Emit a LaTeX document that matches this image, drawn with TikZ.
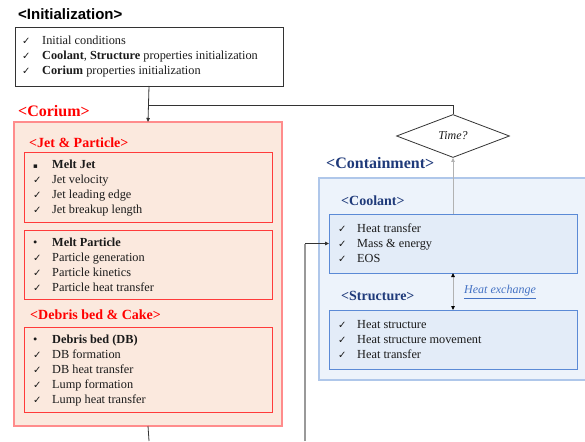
\documentclass[tikz,border=0pt]{standalone}
\usepackage{fontspec}
\setmainfont{Liberation Serif}
\newfontfamily\headsans{Liberation Sans}
\newfontfamily\symf{DejaVu Sans}
\usetikzlibrary{shapes.geometric,arrows.meta}
\definecolor{corfill}{HTML}{FBE9DE}
\definecolor{corline}{HTML}{FF8C8C}
\definecolor{corin}{HTML}{FF3B3B}
\definecolor{cored}{HTML}{FF0000}
\definecolor{navy}{HTML}{1F3A7A}
\definecolor{confill}{HTML}{EDF3FB}
\definecolor{conline}{HTML}{AFC7EA}
\definecolor{boxfill}{HTML}{E3ECF8}
\definecolor{boxline}{HTML}{5B8AD6}
\definecolor{hx}{HTML}{4472C4}
\definecolor{txt}{HTML}{1A1A1A}
\newcommand\ck{{\symf\fontsize{10}{10}\selectfont ✓}}
\newcommand\sqb{{\symf\fontsize{7}{7}\selectfont ▪}}
\tikzset{
  box/.style={draw, inner sep=0pt, outer sep=0pt, anchor=north west},
  lst/.style={inner sep=0pt, anchor=north west, text=txt, font=\fontsize{12.3}{15}\selectfont},
  redhead/.style={anchor=west, inner sep=0pt, text=cored, font=\bfseries\fontsize{14}{14}\selectfont},
  bluehead/.style={anchor=west, inner sep=0pt, text=navy, font=\bfseries\fontsize{14}{14}\selectfont},
  conn/.style={draw=black!80, line width=0.8pt},
  arr/.style={-{Triangle[length=4pt,width=3.5pt]}},
}
\begin{document}
\begin{tikzpicture}[x=1pt,y=1pt]
\useasboundingbox (0,0) rectangle (585,-441);
% Initialization
\node[anchor=west, inner sep=0pt, font=\headsans\bfseries\fontsize{15}{15}\selectfont] (inittitle) at (18,-14) {<Initialization>};
\node[box, draw=black!80, line width=0.8pt, minimum width=268pt, minimum height=59pt] (init) at (15,-27) {};
\node[lst] (initlst) at (22,-34) {\begin{tabular}{@{}p{20pt}@{}l@{}}
\ck & Initial conditions\\
\ck & \textbf{Coolant}, \textbf{Structure} properties initialization\\
\ck & \textbf{Corium} properties initialization
\end{tabular}};
% Corium
\node[redhead, font=\bfseries\fontsize{16}{16}\selectfont] (coriumtitle) at (18,-111) {<Corium>};
\node[box, draw=corline, fill=corfill, line width=1.6pt, minimum width=268pt, minimum height=304pt] (corium) at (14,-122) {};
\node[redhead] (jptitle) at (29,-143) {<Jet \& Particle>};
\node[box, draw=corin, line width=1pt, minimum width=248pt, minimum height=70pt] (jet) at (24,-152) {};
\node[lst] (jetlst) at (33,-158) {\begin{tabular}{@{}p{19pt}@{}l@{}}
\sqb & \textbf{Melt Jet}\\
\ck & Jet velocity\\
\ck & Jet leading edge\\
\ck & Jet breakup length
\end{tabular}};
\node[box, draw=corin, line width=1pt, minimum width=248pt, minimum height=69pt] (part) at (24,-230) {};
\node[lst] (partlst) at (33,-236) {\begin{tabular}{@{}p{19pt}@{}l@{}}
• & \textbf{Melt Particle}\\
\ck & Particle generation\\
\ck & Particle kinetics\\
\ck & Particle heat transfer
\end{tabular}};
\node[redhead] (dbtitle) at (30,-315) {<Debris bed \& Cake>};
\node[box, draw=corin, line width=1pt, minimum width=248pt, minimum height=85pt] (db) at (24,-327) {};
\node[lst] (dblst) at (33,-333) {\begin{tabular}{@{}p{19pt}@{}l@{}}
• & \textbf{Debris bed (DB)}\\
\ck & DB formation\\
\ck & DB heat transfer\\
\ck & Lump formation\\
\ck & Lump heat transfer
\end{tabular}};
% Time diamond
\node[diamond, draw=black!80, line width=0.8pt, aspect=2.6, minimum width=113pt, minimum height=43pt, inner sep=0pt, font=\itshape\fontsize{12}{12}\selectfont, text=txt] (time) at (453,-136) {Time?};
% Containment
\node[bluehead, font=\bfseries\fontsize{16}{16}\selectfont] (conttitle) at (326,-163) {<Containment>};
\node[box, draw=conline, fill=confill, line width=1.2pt, minimum width=280pt, minimum height=202pt] (cont) at (319,-178) {};
\node[bluehead] (cooltitle) at (341,-201) {<Coolant>};
\node[box, draw=boxline, fill=boxfill, line width=0.9pt, minimum width=248pt, minimum height=59pt] (cool) at (329,-214) {};
\node[lst] (coollst) at (338,-222) {\begin{tabular}{@{}p{19pt}@{}l@{}}
\ck & Heat transfer\\
\ck & Mass \& energy\\
\ck & EOS
\end{tabular}};
\node[bluehead] (structtitle) at (341,-296) {<Structure>};
\node[box, draw=boxline, fill=boxfill, line width=0.9pt, minimum width=248pt, minimum height=59pt] (struct) at (329,-310) {};
\node[lst] (structlst) at (338,-318) {\begin{tabular}{@{}p{19pt}@{}l@{}}
\ck & Heat structure\\
\ck & Heat structure movement\\
\ck & Heat transfer
\end{tabular}};
\node[anchor=west, inner sep=0pt, text=hx, font=\itshape\fontsize{12}{12}\selectfont] (hxlabel) at (464,-292) {\underline{Heat exchange}};
% connectors
\coordinate (j1) at (149,-105);
\coordinate (corbot) at (149,-441);
\coordinate (lowin) at (305,-441);
\coordinate (lowcorner) at (305,-243.5);
\draw[conn, arr] (init.south) -- (corium.north);
\draw[conn] (j1) -| (time.north);
\draw[conn] (corium.south) -- (corbot);
\draw[draw=black!30, line width=0.8pt, arr] (cool.north) -- (time.south);
\draw[draw=black!30, line width=0.8pt, {Triangle[length=4pt,width=3.5pt,black]}-{Triangle[length=4pt,width=3.5pt,black]}] (cool.south) -- (struct.north);
\draw[draw=black!40, line width=1.3pt] (lowin) -- (lowcorner);
\draw[conn, arr] (lowcorner) -- (cool.west);
\end{tikzpicture}
\end{document}
